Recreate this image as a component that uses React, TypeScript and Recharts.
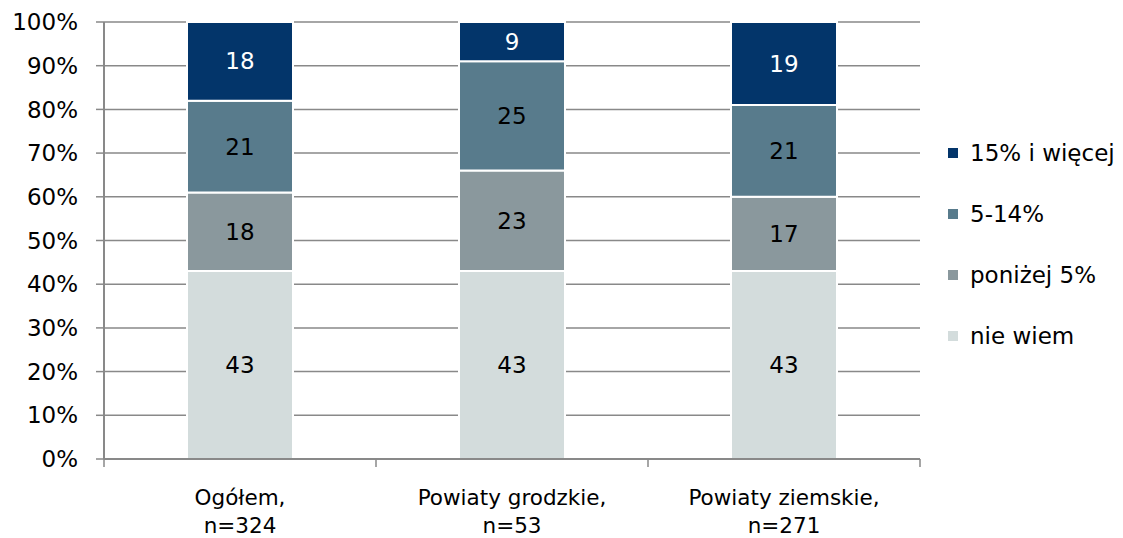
import { BarChart, Bar, XAxis, YAxis, CartesianGrid, LabelList, Legend } from 'recharts';

const categories = ['Ogółem,', 'Powiaty grodzkie,', 'Powiaty ziemskie,'];
const sampleSizes = ['n=324', 'n=53', 'n=271'];

const nieWiem = [43, 43, 43];
const ponizej5 = [18, 23, 17];
const od5do14 = [21, 25, 21];
const od15 = [18, 9, 19];

const yTicks = [0, 10, 20, 30, 40, 50, 60, 70, 80, 90, 100];
const frameTicks = [0, 1, 2, 3];

const series = [
  { key: 'nieWiem', name: 'nie wiem', color: '#d3dcdc', label: '#000000' },
  { key: 'ponizej5', name: 'poniżej 5%', color: '#8a989d', label: '#000000' },
  { key: 'od5do14', name: '5-14%', color: '#587b8c', label: '#000000' },
  { key: 'od15', name: '15% i więcej', color: '#03356a', label: '#ffffff' }
];

const data = categories.map((name, i) => ({
  name,
  slot: i + 0.5,
  nieWiem: nieWiem[i],
  ponizej5: ponizej5[i],
  od5do14: od5do14[i],
  od15: od15[i]
}));

const FONT = '"DejaVu Sans", Tahoma, sans-serif';
const AXIS = '#898989';

const CategoryTick = (props: any) => {
  const { x, y, payload, index } = props;
  return (
    <text x={x} y={y} textAnchor="middle" fontFamily={FONT} fontSize={21.5} fill="#000">
      <tspan x={x} dy={45}>{payload.value}</tspan>
      <tspan x={x} dy={28}>{sampleSizes[index]}</tspan>
    </text>
  );
};

const EmptyTick = () => <g />;

const LegendBox = () => (
  <div style={{ fontFamily: FONT, fontSize: 23, color: '#000' }}>
    {[...series].reverse().map((s) => (
      <div key={s.key} style={{ display: 'flex', alignItems: 'center', height: 61 }}>
        <div style={{ width: 10, height: 10, background: s.color, marginRight: 12 }} />
        <span>{s.name}</span>
      </div>
    ))}
  </div>
);

export default function App() {
  return (
    <div style={{ position: 'relative', width: 1107, height: 530 }}>
      <BarChart
        width={1107}
        height={530}
        data={data}
        margin={{ top: 14, right: 195, bottom: 0, left: 0 }}
        barCategoryGap="0%"
      >
        <CartesianGrid vertical={false} stroke={AXIS} strokeWidth={1.5} />
        <XAxis
          xAxisId="aFrame"
          type="number"
          dataKey="slot"
          domain={[0, 3]}
          allowDataOverflow
          ticks={frameTicks}
          interval={0}
          height={1}
          stroke={AXIS}
          strokeWidth={2}
          tickSize={8}
          tickLine={{ stroke: AXIS, strokeWidth: 1.5 }}
          tick={<EmptyTick />}
        />
        <XAxis
          xAxisId="bLabels"
          dataKey="name"
          height={78}
          axisLine={false}
          tickLine={false}
          tickSize={0}
          tickMargin={0}
          interval={0}
          tick={<CategoryTick />}
        />
        <YAxis
          width={96}
          domain={[0, 100]}
          ticks={yTicks}
          tickFormatter={(v: number) => `${v}%`}
          stroke={AXIS}
          strokeWidth={2}
          tickSize={8}
          tickMargin={18}
          tickLine={{ stroke: AXIS, strokeWidth: 1.5 }}
          tick={{ fill: '#000', fontFamily: FONT, fontSize: 23 }}
          interval={0}
        />
        {series.map((s) => (
          <Bar
            key={s.key}
            xAxisId="bLabels"
            dataKey={s.key}
            name={s.name}
            stackId="a"
            fill={s.color}
            stroke="#ffffff"
            strokeWidth={2}
            barSize={106}
            isAnimationActive={false}
          >
            <LabelList
              dataKey={s.key}
              position="center"
              fill={s.label}
              style={{ fontFamily: FONT, fontSize: 23 }}
            />
          </Bar>
        ))}
        <Legend
          layout="vertical"
          align="center"
          verticalAlign="middle"
          content={<LegendBox />}
          wrapperStyle={{ left: 940, top: 114, width: 180 }}
        />
      </BarChart>
    </div>
  );
}
